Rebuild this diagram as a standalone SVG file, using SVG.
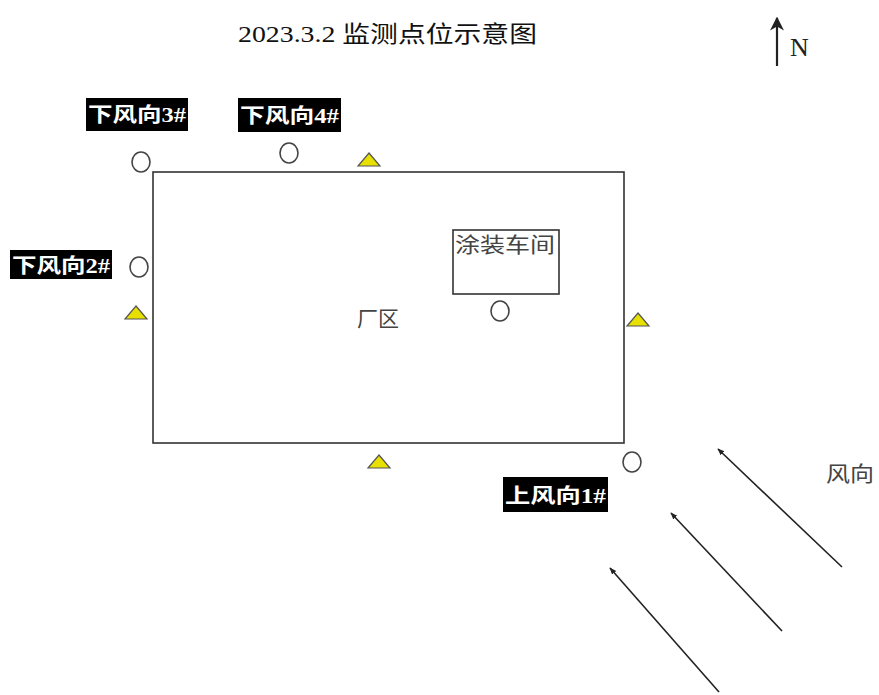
<svg xmlns="http://www.w3.org/2000/svg" width="879" height="695" viewBox="0 0 879 695">
<defs>
<marker id="ah" viewBox="0 0 10 10" refX="9" refY="5" markerWidth="7" markerHeight="7" markerUnits="userSpaceOnUse" orient="auto">
<path d="M0,1 L10,5 L0,9 Z" fill="#222"/>
</marker>
<marker id="nh" viewBox="0 0 10 10" refX="9" refY="5" markerWidth="14" markerHeight="14" markerUnits="userSpaceOnUse" orient="auto">
<path d="M0,0 L10,5 L0,10 L3,5 Z" fill="#222"/>
</marker>
<style>
.lbl-bg{fill:#000}
.lbl{fill:#fff;font-family:"Liberation Serif","Noto Sans CJK SC",serif;font-weight:bold;font-size:20px}
.pt{fill:#fff;stroke:#444;stroke-width:1.6}
.tri{fill:#e8e000;stroke:#555;stroke-width:1.2}
.gray{fill:#444;font-family:"Noto Sans CJK SC","Liberation Sans",sans-serif;font-size:21px}
.wind{stroke:#222;stroke-width:1.6;fill:none;marker-end:url(#ah)}
</style>
</defs>
<rect width="879" height="695" fill="#fff"/>
<text x="238" y="42" font-family="Liberation Serif,'Noto Sans CJK SC',serif" font-size="23" fill="#111" textLength="299" lengthAdjust="spacingAndGlyphs">2023.3.2 监测点位示意图</text>
<g id="north">
<line x1="777" y1="66" x2="777" y2="18" stroke="#222" stroke-width="2.2" marker-end="url(#nh)"/>
<text x="790" y="56" font-family="Liberation Serif,serif" font-size="26" fill="#222">N</text>
</g>
<g id="plant">
<rect x="153" y="172" width="471" height="271" fill="none" stroke="#333" stroke-width="1.6"/>
<text x="357" y="326" class="gray">厂区</text>
</g>
<g id="workshop">
<rect x="453" y="230" width="106" height="64" fill="none" stroke="#333" stroke-width="1.6"/>
<text x="455" y="252" class="gray" textLength="100" lengthAdjust="spacingAndGlyphs">涂装车间</text>
</g>
<g id="p3">
<rect class="lbl-bg" x="86" y="98" width="102" height="33"/>
<text class="lbl" x="88" y="122" textLength="98" lengthAdjust="spacingAndGlyphs">下风向3#</text>
<ellipse class="pt" cx="141" cy="162" rx="9" ry="10"/>
</g>
<g id="p4">
<rect class="lbl-bg" x="238" y="98" width="103" height="34"/>
<text class="lbl" x="240" y="123" textLength="99" lengthAdjust="spacingAndGlyphs">下风向4#</text>
<ellipse class="pt" cx="289" cy="153" rx="9" ry="10"/>
</g>
<g id="p2">
<rect class="lbl-bg" x="10" y="250" width="102" height="29"/>
<text class="lbl" x="12" y="273" textLength="98" lengthAdjust="spacingAndGlyphs">下风向2#</text>
<ellipse class="pt" cx="139" cy="267" rx="9" ry="10"/>
</g>
<g id="p1">
<rect class="lbl-bg" x="503" y="477" width="105" height="35"/>
<text class="lbl" x="505" y="503" textLength="101" lengthAdjust="spacingAndGlyphs">上风向1#</text>
<ellipse class="pt" cx="632" cy="462" rx="9" ry="10"/>
</g>
<g id="p5">
<ellipse class="pt" cx="500" cy="311" rx="9" ry="10"/>
</g>
<g id="t1"><polygon class="tri" points="369,153 380,166 358,166"/></g>
<g id="t2"><polygon class="tri" points="136,306 147,319 125,319"/></g>
<g id="t3"><polygon class="tri" points="638,313 649,326 627,326"/></g>
<g id="t4"><polygon class="tri" points="379,455 390,468 368,468"/></g>
<g id="wind-label">
<text x="826" y="481" class="gray" textLength="48" lengthAdjust="spacingAndGlyphs">风向</text>
</g>
<g id="connectors">
<line class="wind" x1="842" y1="567" x2="718" y2="449"/>
<line class="wind" x1="782" y1="631" x2="671" y2="513"/>
<line class="wind" x1="719" y1="692" x2="610" y2="568"/>
</g>
</svg>
